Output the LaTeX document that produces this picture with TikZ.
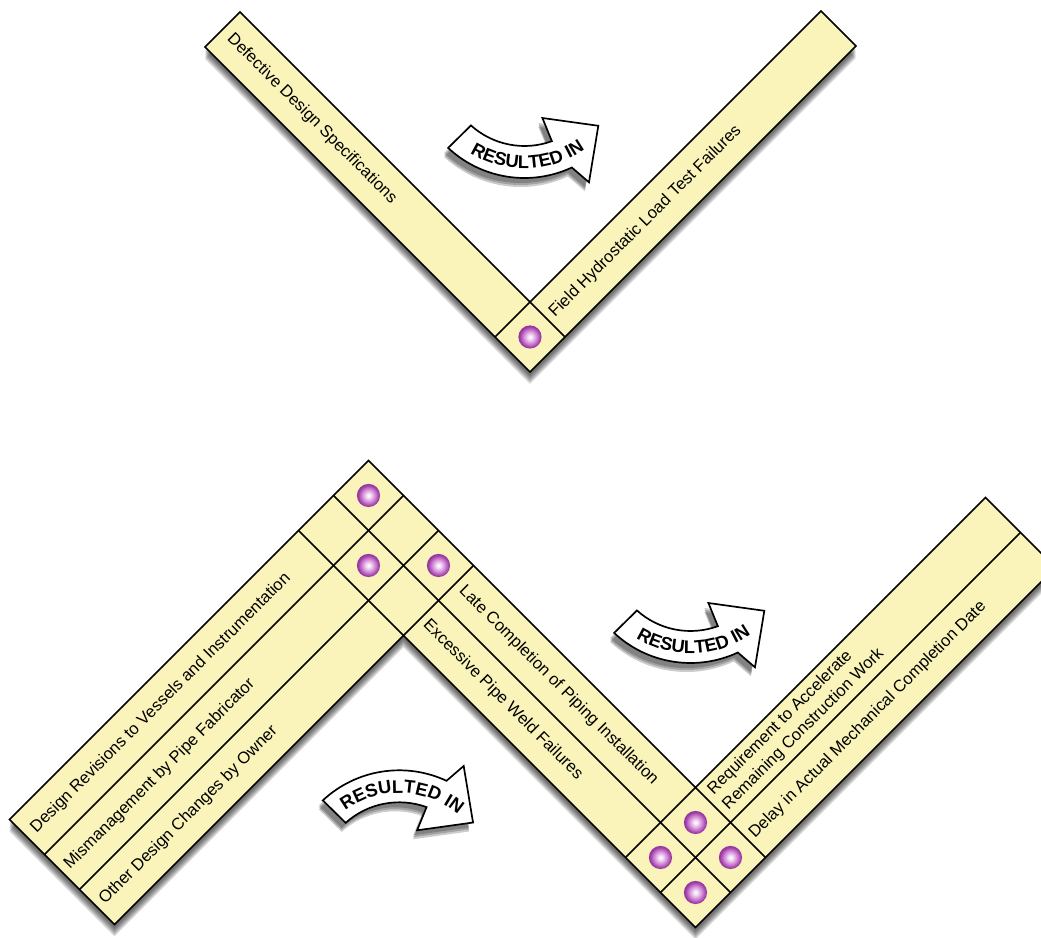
\documentclass[tikz,border=0pt]{standalone}
\usepackage{fontspec}
\setmainfont{Liberation Sans}
\usetikzlibrary{decorations.text}

\definecolor{barfill}{RGB}{250,244,186}
\definecolor{dotedge}{RGB}{150,55,160}
\definecolor{dotmid}{RGB}{205,125,210}
\pgfdeclareradialshading{dotball}{\pgfpoint{0bp}{0bp}}{%
  color(0bp)=(white); color(5bp)=(white!75!dotmid); color(15bp)=(dotmid);
  color(23bp)=(dotedge); color(25bp)=(dotedge); color(50bp)=(dotedge)}

\newcommand{\barfont}{\fontsize{11.8}{15}\selectfont}
\newcommand{\arrowfont}{\fontsize{13}{13}\selectfont\bfseries}

% outline of the curved arrow, #1 = 1 (sags) or -1 (humps)
\newcommand{\arrowoutline}[1]{({#1*133}:112) arc[start angle={#1*133}, end angle={#1*65}, radius=112]
  -- ({#1*61}:133) -- ({#1*39}:95) -- ({#1*71}:55) -- ({#1*70}:80)
  arc[start angle={#1*70}, end angle={#1*132}, radius=80] -- cycle}

% "RESULTED IN" arrow: #1,#2 = centre of its arc, #3 = 1 or -1
\newcommand{\resarrow}[3]{%
  \begin{scope}[shift={(#1,#2)}]
    \foreach \d in {5,7,9}
      \fill[arrowshadow, shift={(-4,\d)}] \arrowoutline{#3};
    \draw[arrowbody] \arrowoutline{#3};
    \path[decorate, decoration={text along path, text align=center, text={|\arrowfont|RESULTED IN}}]
      ({#3*140}:{96+#3*6.6}) arc[start angle={#3*140}, end angle={#3*36}, radius={96+#3*6.6}];
  \end{scope}}

\begin{document}
\begin{tikzpicture}[x=0.025cm, y=-0.025cm,
    diag/.style={x={(0.0125cm,0.0125cm)}, y={(0.0125cm,-0.0125cm)}},
    bar/.style={draw=black, line width=1.2pt, fill=barfill},
    cellline/.style={draw=black, line width=1.2pt},
    barshadow/.style={fill=black, opacity=0.15},
    bartext/.style={font=\barfont, inner sep=0pt, anchor=west},
    dot/.style={shading=dotball},
    arrowbody/.style={draw=black, line width=1.2pt, fill=white},
    arrowshadow/.style={fill=black, opacity=0.2}
]
\useasboundingbox (0,0) rectangle (1041,938);

% soft shadows under both bars
\foreach \d in {4,6,8,10,12} {
  \begin{scope}[shift={(0,\d)}, diag]
    \fill[barshadow] (158,252) -- (228,252) -- (228,832) -- (810,832) -- (810,902) -- (158,902) -- cycle;
    \fill[barshadow] (-810,829) -- (-92,829) -- (-92,1483) -- (488,1483) -- (488,1623)
      -- (-232,1623) -- (-232,1039) -- (-810,1039) -- cycle;
  \end{scope}
}

\begin{scope}[diag]
  % upper V
  \draw[bar] (158,252) -- (228,252) -- (228,832) -- (810,832) -- (810,902) -- (158,902) -- cycle;
  \draw[cellline] (158,832) -- (228,832) -- (228,902);
  \shade[dot] (193,867) circle (0.29cm);
  \node[bartext, rotate=-45] (defect) at (193,266) {Defective Design Specifications};
  \node[bartext, rotate=45] (hydro) at (237,867) {Field Hydrostatic Load Test Failures};

  % lower zigzag
  \draw[bar] (-810,829) -- (-92,829) -- (-92,1483) -- (488,1483) -- (488,1623)
    -- (-232,1623) -- (-232,1039) -- (-810,1039) -- cycle;
  \draw[cellline] (-810,899) -- (-92,899);
  \draw[cellline] (-810,969) -- (-92,969);
  \draw[cellline] (-232,1039) -- (-92,1039);
  \draw[cellline] (-232,829) -- (-232,1039);
  \draw[cellline] (-162,829) -- (-162,1623);
  \draw[cellline] (-232,1483) -- (-92,1483);
  \draw[cellline] (-232,1553) -- (488,1553);
  \draw[cellline] (-92,1483) -- (-92,1623);
  \foreach \u/\v in {-127/864, -197/934, -127/1004, -127/1518, -197/1518, -127/1588, -197/1588}
    \shade[dot] (\u,\v) circle (0.29cm);
  \node[bartext, rotate=45] (revis) at (-797,864) {Design Revisions to Vessels and Instrumentation};
  \node[bartext, rotate=45] (mismgmt) at (-800,934) {Mismanagement by Pipe Fabricator};
  \node[bartext, rotate=45] (owner) at (-800,1004) {Other Design Changes by Owner};
  \node[bartext, rotate=-45] (latecomp) at (-127,1050) {Late Completion of Piping Installation};
  \node[bartext, rotate=-45] (welds) at (-197,1048) {Excessive Pipe Weld Failures};
  \node[bartext, rotate=45, align=left] (accel) at (-82,1518) {Requirement to Accelerate\\Remaining Construction Work};
  \node[bartext, rotate=45] (delay) at (-84,1588) {Delay in Actual Mechanical Completion Date};
\end{scope}

% the three arrows
\resarrow{524.5}{66}{1}
\resarrow{690.5}{551}{1}
\resarrow{399.2}{882.3}{-1}
\end{tikzpicture}
\end{document}
